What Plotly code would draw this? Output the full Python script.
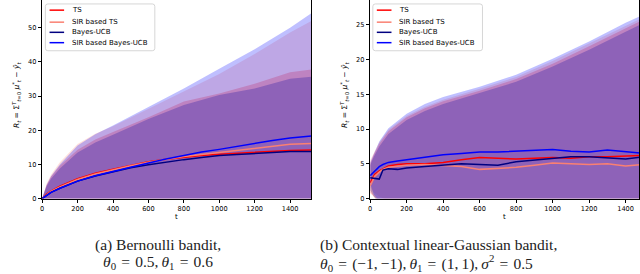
import plotly.graph_objects as go

# ---------------- data: (a) Bernoulli bandit ----------------
T_L = [0, 25, 50, 100, 200, 300, 400, 500, 600, 700, 800, 900, 1000, 1100, 1200, 1300, 1400, 1520]
ts_L = [0, 1.3, 2.2, 3.6, 5.8, 7.4, 8.6, 9.8, 10.8, 11.5, 12.1, 12.6, 13.0, 13.3, 13.7, 13.9, 14.1, 14.2]
sirts_L = [0, 1.2, 2.1, 3.4, 5.6, 7.2, 8.5, 9.6, 10.6, 11.5, 12.3, 12.9, 13.5, 14.2, 14.9, 15.5, 15.9, 16.1]
ucb_L = [0, 1.0, 1.8, 3.0, 5.1, 6.6, 7.9, 9.0, 9.9, 10.7, 11.4, 12.0, 12.6, 12.9, 13.3, 13.5, 13.8, 13.8]
sirucb_L = [0, 1.0, 1.8, 3.0, 5.1, 6.7, 8.0, 9.3, 10.4, 11.6, 12.7, 13.6, 14.4, 15.3, 16.2, 17.0, 17.7, 18.3]

UP_T_L = [0, 25, 50, 100, 200, 300, 400, 600, 800, 1000, 1200, 1400, 1520]
ts_up_L = [0, 4.0, 6.4, 9.6, 14.3, 17.3, 19.5, 23.8, 28.4, 30.8, 33.6, 37.0, 37.8]
sirts_up_L = [0, 4.3, 7.0, 10.6, 16.0, 19.0, 21.2, 26.3, 31.2, 36.5, 42.3, 48.6, 52.0]
ucb_up_L = [0, 3.6, 5.8, 8.8, 13.5, 16.4, 18.7, 23.3, 27.4, 30.3, 32.2, 35.1, 35.7]
sirucb_up_L = [0, 4.0, 6.5, 10.0, 15.5, 18.8, 21.4, 26.9, 32.2, 38.0, 43.7, 50.0, 54.3]

LO_T_L = [0, 100, 1520]
ts_lo_L = [0, -3, -20]
sirts_lo_L = [0, -3, -20]
ucb_lo_L = [0, -3, -20]
sirucb_lo_L = [0, -3, -20]

# ---------------- data: (b) Contextual linear-Gaussian bandit ----------------
T_R = [0, 25, 50, 70, 100, 150, 200, 300, 400, 500, 600, 700, 800, 900, 1000, 1100, 1200, 1300, 1400, 1500]
ts_R = [2.3, 3.5, 4.0, 4.3, 4.7, 4.9, 5.0, 5.0, 5.2, 5.6, 5.9, 5.8, 5.7, 5.8, 5.9, 5.8, 6.0, 6.0, 6.1, 6.2]
sirts_R = [1.8, 3.2, 3.8, 4.2, 4.5, 4.7, 4.8, 4.9, 4.7, 4.6, 4.2, 4.3, 4.5, 4.8, 5.1, 5.0, 4.9, 5.0, 4.7, 4.9]
ucb_R = [3.0, 2.9, 2.8, 4.1, 4.3, 4.2, 4.4, 4.6, 4.8, 5.0, 4.9, 4.8, 5.3, 5.5, 5.7, 6.0, 6.0, 5.9, 5.7, 6.0]
sirucb_R = [3.3, 4.0, 4.6, 4.9, 5.2, 5.4, 5.6, 6.0, 6.3, 6.5, 6.7, 6.7, 6.8, 6.9, 7.05, 6.8, 6.7, 7.0, 6.7, 6.5]

UP_T_R = [0, 20, 50, 100, 200, 300, 400, 600, 800, 1000, 1200, 1400, 1500]
ts_up_R = [5.0, 6.3, 7.9, 9.7, 11.7, 13.0, 14.0, 15.5, 17.2, 19.4, 21.9, 24.5, 25.8]
sirts_up_R = [5.5, 6.6, 8.1, 9.9, 11.9, 13.2, 14.2, 15.8, 17.5, 19.8, 22.3, 24.9, 26.1]
ucb_up_R = [4.8, 6.0, 7.5, 9.3, 11.3, 12.6, 13.6, 15.2, 16.8, 19.0, 21.4, 24.0, 25.3]
sirucb_up_R = [5.2, 6.5, 8.2, 10.1, 12.2, 13.6, 14.6, 16.1, 17.8, 20.1, 22.6, 25.3, 26.5]

LO_T_R = [0, 20, 50, 100, 200, 1500]
ts_lo_R = [0.8, 0.2, -0.5, -1.8, -4, -12]
sirts_lo_R = [1.6, 0.9, 0.3, -0.3, -3, -12]
ucb_lo_R = [1.2, 0.3, -0.8, -2.5, -4, -12]
sirucb_lo_R = [2.2, 0.6, -0.4, -2.0, -4, -12]

NAMES = ["TS", "SIR based TS", "Bayes-UCB", "SIR based Bayes-UCB"]
COLORS = ["#ff0000", "#fa8072", "#000080", "#0000ff"]
FILLS = ["rgba(255,0,0,0.25)", "rgba(250,128,114,0.25)", "rgba(0,0,128,0.25)", "rgba(0,0,255,0.25)"]
X_TICKS = [0, 200, 400, 600, 800, 1000, 1200, 1400]
Y_TICKS_L = [0, 10, 20, 30, 40, 50]
Y_TICKS_R = [0, 5, 10, 15, 20, 25]

W, H = 640, 274


def PX(x):
    return x / W


def PY(y):
    return 1 - y / H


fig = go.Figure()

panels = [
    ("x", "y", T_L, [ts_L, sirts_L, ucb_L, sirucb_L], UP_T_L,
     [ts_up_L, sirts_up_L, ucb_up_L, sirucb_up_L], LO_T_L,
     [ts_lo_L, sirts_lo_L, ucb_lo_L, sirucb_lo_L]),
    ("x2", "y2", T_R, [ts_R, sirts_R, ucb_R, sirucb_R], UP_T_R,
     [ts_up_R, sirts_up_R, ucb_up_R, sirucb_up_R], LO_T_R,
     [ts_lo_R, sirts_lo_R, ucb_lo_R, sirucb_lo_R]),
]

for xa, ya, t, means, ut, ups, lt, los in panels:
    for i in range(4):
        px = list(ut) + list(lt)[::-1]
        py = list(ups[i]) + list(los[i])[::-1]
        fig.add_trace(go.Scatter(x=px, y=py, fill="toself", fillcolor=FILLS[i],
                                 line=dict(width=0), mode="lines", hoverinfo="skip",
                                 showlegend=False, xaxis=xa, yaxis=ya))
    for i in range(4):
        fig.add_trace(go.Scatter(x=t, y=means[i], mode="lines", name=NAMES[i],
                                 line=dict(color=COLORS[i], width=1.5),
                                 showlegend=False, xaxis=xa, yaxis=ya))

YDOM = [PY(201.5), PY(0.5)]
axis_common = dict(showgrid=False, zeroline=False, showline=True, linecolor="black",
                   linewidth=0.8, mirror=True, ticks="outside", ticklen=3.5,
                   tickwidth=0.8, tickcolor="black",
                   tickfont=dict(family="DejaVu Sans", size=6.6, color="black"))

fig.update_layout(
    width=W, height=H,
    margin=dict(l=0, r=0, t=0, b=0),
    paper_bgcolor="white", plot_bgcolor="white",
    showlegend=False,
    xaxis=dict(domain=[PX(40.3), PX(310.3)], range=[0, 1520], tickvals=X_TICKS,
               anchor="y", **axis_common),
    yaxis=dict(domain=YDOM, range=[0, 58], tickvals=Y_TICKS_L, anchor="x", **axis_common),
    xaxis2=dict(domain=[PX(369.3), PX(639.3)], range=[0, 1475], tickvals=X_TICKS,
                anchor="y2", **axis_common),
    yaxis2=dict(domain=YDOM, range=[0, 28.5], tickvals=Y_TICKS_R, anchor="x2", **axis_common),
)

shapes = []
annotations = []


def rounded_rect(x0, y0, x1, y1, r=2.5):
    pts = [
        f"M {PX(x0 + r)},{PY(y0)}",
        f"L {PX(x1 - r)},{PY(y0)}",
        f"Q {PX(x1)},{PY(y0)} {PX(x1)},{PY(y0 + r)}",
        f"L {PX(x1)},{PY(y1 - r)}",
        f"Q {PX(x1)},{PY(y1)} {PX(x1 - r)},{PY(y1)}",
        f"L {PX(x0 + r)},{PY(y1)}",
        f"Q {PX(x0)},{PY(y1)} {PX(x0)},{PY(y1 - r)}",
        f"L {PX(x0)},{PY(y0 + r)}",
        f"Q {PX(x0)},{PY(y0)} {PX(x0 + r)},{PY(y0)}",
        "Z",
    ]
    return " ".join(pts)


legend_boxes = [
    dict(box=(43.5, 4.0, 153.3, 51.5), lx=(47.7, 62.3), tx=68.0),
    dict(box=(372.0, 4.0, 482.0, 51.5), lx=(376.0, 390.7), tx=396.5),
]
rows = [10.3, 22.5, 32.8, 43.3]
for lb in legend_boxes:
    x0, y0, x1, y1 = lb["box"]
    shapes.append(dict(type="path", path=rounded_rect(x0, y0, x1, y1), xref="paper",
                       yref="paper", fillcolor="rgba(255,255,255,0.8)",
                       line=dict(color="#cccccc", width=0.8), layer="above"))
    for i, ry in enumerate(rows):
        shapes.append(dict(type="line", xref="paper", yref="paper",
                           x0=PX(lb["lx"][0]), x1=PX(lb["lx"][1]), y0=PY(ry), y1=PY(ry),
                           line=dict(color=COLORS[i], width=1.5), layer="above"))
        annotations.append(dict(text=NAMES[i], xref="paper", yref="paper", x=PX(lb["tx"]),
                                y=PY(ry), xanchor="left", yanchor="middle", showarrow=False,
                                font=dict(family="DejaVu Sans", size=7, color="black")))

# axis titles
ylab = ("<i>R</i><sub><i>t</i></sub> = Σ<sup><i>T</i></sup><sub><i>t</i>=0</sub> "
        "<i>μ</i><sup>*</sup><sub><i>t</i></sub> − <i>ŷ</i><sub><i>t</i></sub>")
for cx in (14.5, 343.5):
    annotations.append(dict(text=ylab, xref="paper", yref="paper", x=PX(cx), y=PY(96),
                            textangle=-90, showarrow=False, xanchor="center", yanchor="middle",
                            font=dict(family="DejaVu Sans", size=7.5, color="black")))
for cx in (175.0, 503.7):
    annotations.append(dict(text="t", xref="paper", yref="paper", x=PX(cx), y=PY(220.5),
                            showarrow=False, xanchor="center", yanchor="middle",
                            font=dict(family="DejaVu Sans", size=7, color="black")))

# captions
cap_font = dict(family="Liberation Serif", size=15.5, color="#222222")
EQ = "\u2004=\u2004"
annotations.append(dict(text="(a) Bernoulli bandit,", xref="paper", yref="paper",
                        x=PX(156.5), y=PY(248.5), showarrow=False, xanchor="center",
                        yanchor="middle", font=cap_font))
annotations.append(dict(text=f"<i>θ</i><sub>0</sub>{EQ}0.5,\u2009<i>θ</i><sub>1</sub>{EQ}0.6",
                        xref="paper", yref="paper", x=PX(156.5), y=PY(266.5), showarrow=False,
                        xanchor="center", yanchor="middle", font=cap_font))
annotations.append(dict(text="(b) Contextual linear-Gaussian bandit,", xref="paper",
                        yref="paper", x=PX(316.7), y=PY(248.5), showarrow=False,
                        xanchor="left", yanchor="middle", font=cap_font))
annotations.append(dict(text=f"<i>θ</i><sub>0</sub>{EQ}(−1,\u2009−1),\u2009<i>θ</i><sub>1</sub>{EQ}(1,\u20091),\u2009"
                             f"<i>σ</i><sup>2</sup>{EQ}0.5",
                        xref="paper", yref="paper", x=PX(316.7), y=PY(266.5), showarrow=False,
                        xanchor="left", yanchor="middle", font=cap_font))

fig.update_layout(shapes=shapes, annotations=annotations)
fig.write_html("out.html", config={"displayModeBar": False},
               post_script="document.body.style.margin='0px';document.body.style.overflow='hidden';")
